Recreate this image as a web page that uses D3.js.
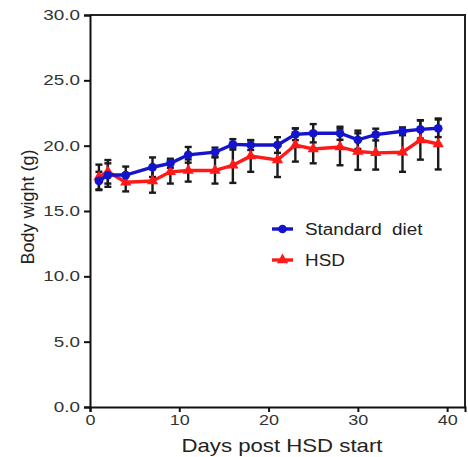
<!DOCTYPE html>
<html>
<head>
<meta charset="utf-8">
<script src="https://cdn.jsdelivr.net/npm/d3@7/dist/d3.min.js"></script>
<style>
  body { margin: 0; background: #fff; }
  svg { display: block; font-family: "Liberation Sans", Arial, sans-serif; }
</style>
</head>
<body>
<svg id="chart" width="468" height="457"></svg>
<script>
// days of measurement
var days = [1, 2, 4, 7, 9, 11, 14, 16, 18, 21, 23, 25, 28, 30, 32, 35, 37, 39];

// Standard diet (mean, error)
var standardMean = [17.3, 17.75, 17.75, 18.35, 18.65, 19.3, 19.5, 20.1, 20.05, 20.05, 20.87, 20.95, 20.95, 20.45, 20.85, 21.1, 21.25, 21.33];
var standardErr  = [0.7, 0.9, 0.65, 0.75, 0.35, 0.6, 0.35, 0.4, 0.38, 0.6, 0.45, 0.7, 0.5, 0.7, 0.45, 0.3, 0.7, 0.67];

// HSD (mean, error)
var hsdMean = [17.6, 18.0, 17.2, 17.3, 18.0, 18.1, 18.1, 18.5, 19.2, 18.9, 20.05, 19.75, 19.9, 19.55, 19.45, 19.5, 20.43, 20.13];
var hsdErr  = [0.95, 0.9, 0.7, 0.9, 0.9, 0.85, 1.0, 1.35, 1.2, 1.3, 1.27, 1.1, 1.4, 1.4, 1.28, 1.5, 1.5, 1.95];

var xTicks = [0, 10, 20, 30, 40];
var yTicks = [0, 5, 10, 15, 20, 25, 30];
var seriesNames = ['Standard  diet', 'HSD'];

var svg = d3.select('#chart');
var margin = {top: 15, right: 3, bottom: 50, left: 90};
var width = 468 - margin.left - margin.right;
var height = 457 - margin.top - margin.bottom;

// the source picture is a bit stretched sideways, so widen text to match
function stretch(sel, k) {
    sel.each(function() {
        var len = this.getComputedTextLength();
        d3.select(this).attr('textLength', len * k).attr('lengthAdjust', 'spacingAndGlyphs');
    });
}

var g = svg.append('g').attr('transform', 'translate(' + margin.left + ',' + margin.top + ')');

var x = d3.scaleLinear().domain([0, 42]).range([0, width]);
var y = d3.scaleLinear().domain([0, 30]).range([height, 0]);

var series = [
    {name: seriesNames[0], mean: standardMean, err: standardErr, color: '#1414cc', marker: 'circle'},
    {name: seriesNames[1], mean: hsdMean, err: hsdErr, color: '#ff1a1a', marker: 'triangle'}
];

// frame (top & right)
g.append('path')
    .attr('d', 'M0,0H' + width + 'V' + height)
    .attr('fill', 'none')
    .attr('stroke', '#222')
    .attr('stroke-width', 2);

// axes
var xAxis = g.append('g')
    .attr('transform', 'translate(0,' + height + ')')
    .call(d3.axisBottom(x).tickValues(xTicks).tickSize(5).tickPadding(2).tickFormat(d3.format('d')));
var yAxis = g.append('g')
    .call(d3.axisLeft(y).tickValues(yTicks).tickSize(6).tickPadding(4).tickFormat(d3.format('.1f')));

[xAxis, yAxis].forEach(function(a) {
    a.select('.domain').attr('stroke', '#111').attr('stroke-width', 2);
    a.selectAll('.tick line').attr('stroke', '#111').attr('stroke-width', 2);
    a.selectAll('.tick text').attr('fill', '#333').style('font-size', '15px');
});
yAxis.selectAll('.tick text').style('font-size', '14.5px');
stretch(xAxis.selectAll('.tick text'), 1.2);
stretch(yAxis.selectAll('.tick text'), 1.3);

// error bars (black) for both series
var capW = 3.5;
series.forEach(function(s) {
    var eb = g.append('g').attr('class', 'errbars');
    days.forEach(function(d, i) {
        var lo = y(s.mean[i] - s.err[i]), hi = y(s.mean[i] + s.err[i]), cx = x(d);
        eb.append('line').attr('x1', cx).attr('x2', cx).attr('y1', lo).attr('y2', hi)
            .attr('stroke', '#1a1a1a').attr('stroke-width', 2.4);
        [lo, hi].forEach(function(yy) {
            eb.append('line').attr('x1', cx - capW).attr('x2', cx + capW).attr('y1', yy).attr('y2', yy)
                .attr('stroke', '#1a1a1a').attr('stroke-width', 2.4);
        });
    });
});

var line = d3.line()
    .x(function(d) { return x(d[0]); })
    .y(function(d) { return y(d[1]); });

var circleSym = d3.symbol().type(d3.symbolCircle).size(60);
var triSym = d3.symbol().type(d3.symbolTriangle).size(55);

// draw red first, blue on top
series.slice().reverse().forEach(function(s) {
    var pts = days.map(function(d, i) { return [d, s.mean[i]]; });
    g.append('path')
        .datum(pts)
        .attr('d', line)
        .attr('fill', 'none')
        .attr('stroke', s.color)
        .attr('stroke-width', 3.4);
    g.selectAll(null)
        .data(pts)
        .enter().append('path')
        .attr('transform', function(d) { return 'translate(' + x(d[0]) + ',' + y(d[1]) + ')'; })
        .attr('d', s.marker === 'circle' ? circleSym : triSym)
        .attr('fill', s.color);
});

// legend
var legend = g.append('g').attr('transform', 'translate(182,214)');
series.forEach(function(s, i) {
    var row = legend.append('g').attr('transform', 'translate(0,' + (i * 31) + ')');
    row.append('line').attr('x1', 0).attr('x2', 21).attr('y1', 0).attr('y2', 0)
        .attr('stroke', s.color).attr('stroke-width', 3.4);
    row.append('path').attr('transform', 'translate(10.5,0)')
        .attr('d', s.marker === 'circle' ? circleSym : triSym)
        .attr('fill', s.color);
    var t = row.append('text').attr('x', 33).attr('y', 6)
        .attr('fill', '#222').style('font-size', '16px')
        .style('white-space', 'pre')
        .text(s.name);
    stretch(t, 1.18);
});

// axis titles
var xTitle = svg.append('text')
    .attr('x', margin.left + x(21.5))
    .attr('y', 452)
    .attr('text-anchor', 'middle')
    .attr('fill', '#222')
    .style('font-size', '18.5px')
    .text('Days post HSD start');
stretch(xTitle, 1.2);

svg.append('text')
    .attr('transform', 'translate(34,207) rotate(-90)')
    .attr('text-anchor', 'middle')
    .attr('fill', '#222')
    .style('font-size', '18px')
    .text('Body wight (g)');
</script>
</body>
</html>
